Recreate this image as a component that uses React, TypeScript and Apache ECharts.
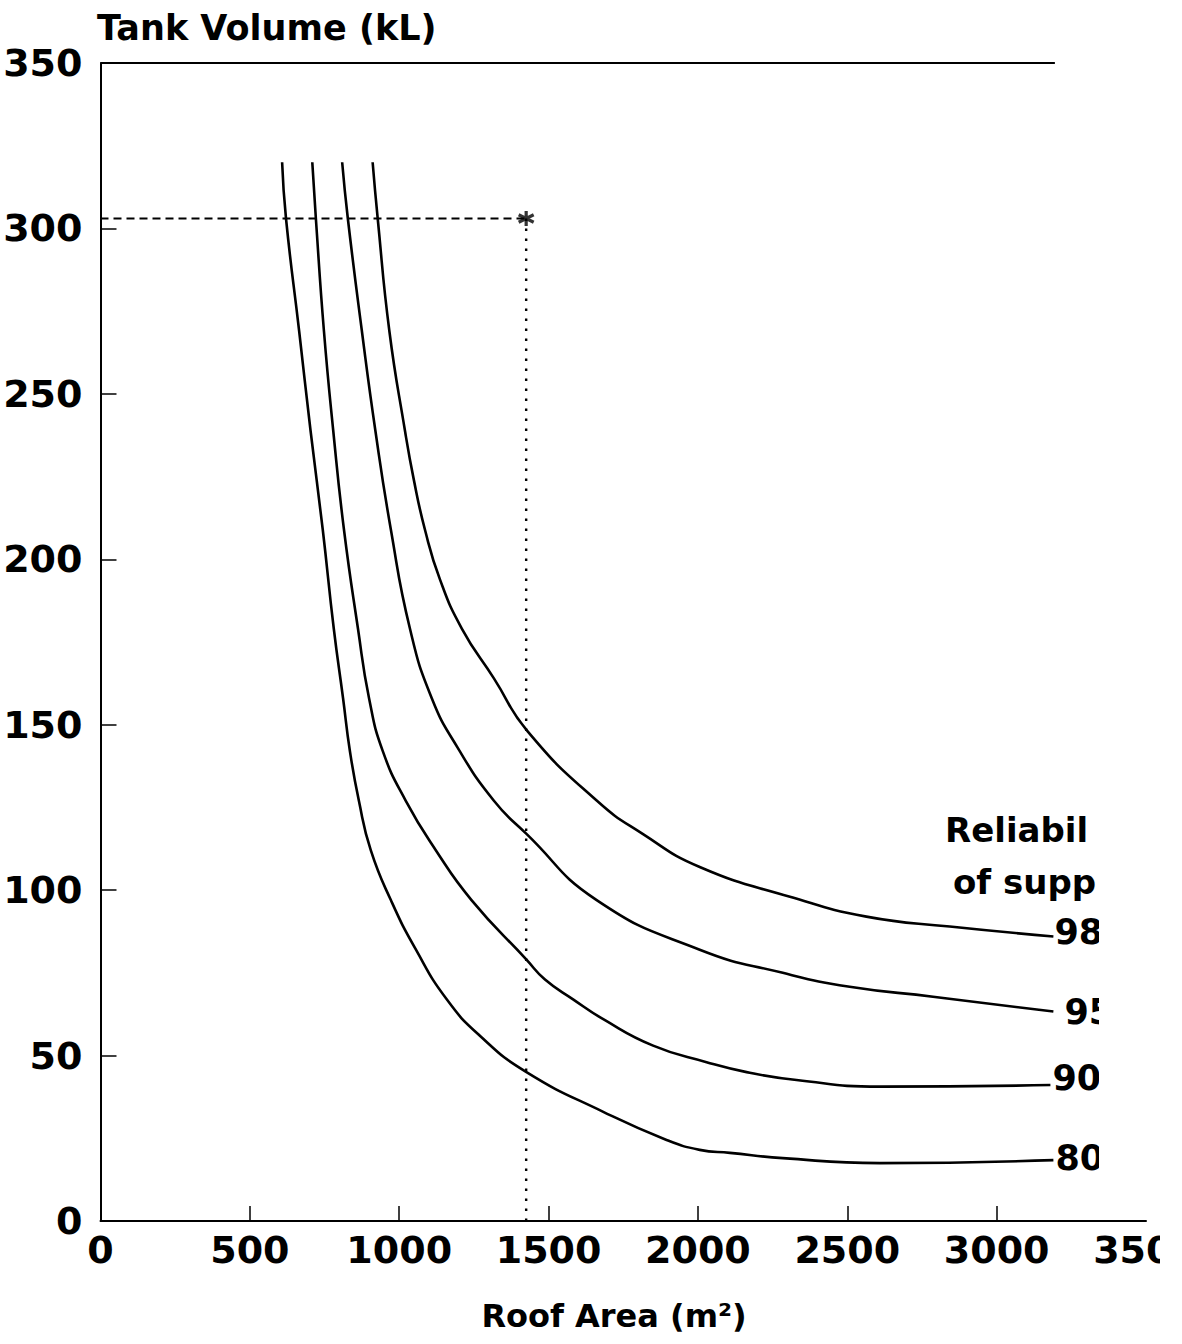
import React, { useEffect, useRef } from "react";
import * as echarts from "echarts";

// Axis ticks
const xTickValues = [500, 1000, 1500, 2000, 2500, 3000];
const yTickValues = [50, 100, 150, 200, 250, 300];

// Curves: [roof area m², tank volume kL]
const curve80: [number, number][] = [
  [608, 320], [621, 303], [665, 269], [703, 239], [744, 209], [781, 179], [812, 158],
  [835, 142], [865, 127], [905, 112], [972, 97], [1056, 82], [1159, 67], [1270, 56],
  [1426, 45], [1683, 33], [1895, 24.5], [2006, 21.5], [2107, 20.6], [2284, 19],
  [2609, 17.5], [3190, 18.4],
];
const curve90: [number, number][] = [
  [709, 320], [721, 303], [748, 269], [779, 239], [815, 209], [862, 179], [899, 158],
  [945, 142], [1022, 127], [1123, 112], [1242, 97], [1426, 79], [1488, 73], [1582, 67],
  [1683, 61], [1850, 53], [2029, 48], [2163, 45], [2330, 42.6], [2609, 40.6], [3180, 41.1],
];
const curve95: [number, number][] = [
  [809, 320], [828, 303], [875, 269], [920, 239], [972, 209], [1036, 179], [1109, 158],
  [1196, 143], [1317, 127], [1426, 117], [1661, 97], [2006, 82], [2284, 75], [2508, 70.8],
  [2787, 67.8], [3190, 63.3],
];
const curve98: [number, number][] = [
  [911, 320], [928, 303], [967, 269], [1019, 239], [1049, 224], [1086, 209], [1136, 194],
  [1210, 179], [1317, 164], [1430, 148], [1662, 127], [1815, 117], [2006, 107], [2308, 98],
  [2564, 92], [2843, 89], [3190, 86],
];
const curveNames = ["98%", "95%", "90%", "80%"];

// Reference design point and frame line
const refPoint: [number, number] = [1425, 303];
const topLine: [number, number][] = [[0, 350], [3195, 350]];

const FONT = "DejaVu Sans";

export default function App() {
  const ref = useRef<HTMLDivElement>(null);
  useEffect(() => {
    const chart = echarts.init(ref.current!, null, { renderer: "svg" });
    const curveSeries = (
      name: string,
      data: [number, number][],
      distance: number,
      offset: [number, number]
    ) => ({
      type: "line",
      name,
      data,
      showSymbol: false,
      symbol: "none",
      smooth: 0.5,
      clip: false,
      lineStyle: { color: "#000", width: 2.6 },
      endLabel: {
        show: true,
        formatter: name,
        color: "#000",
        fontSize: 35,
        fontWeight: "bold",
        fontFamily: FONT,
        distance,
        offset,
      },
      z: 3,
    });
    const txt = (text: string, x: number, y: number, size: number, align = "left") => ({
      type: "text",
      x,
      y,
      style: {
        text,
        fontSize: size,
        fontWeight: "bold",
        fontFamily: FONT,
        fill: "#000",
        align,
        verticalAlign: "middle",
      },
    });
    chart.setOption({
      animation: false,
      backgroundColor: "#fff",
      grid: { left: 100.5, right: 36, top: 63, bottom: 123, containLabel: false, outerBoundsMode: "none" },
      xAxis: {
        type: "value",
        min: 0,
        max: 3500,
        interval: 500,
        axisLine: { show: true, lineStyle: { color: "#000", width: 2 } },
        axisTick: {
          show: true,
          inside: true,
          length: 15,
          customValues: xTickValues,
          lineStyle: { color: "#000", width: 1.5 },
        },
        axisLabel: {
          fontSize: 38,
          fontWeight: "bold",
          color: "#000",
          fontFamily: FONT,
          margin: 10,
          formatter: (v: number) => String(v),
        },
        splitLine: { show: false },
      },
      yAxis: {
        type: "value",
        min: 0,
        max: 350,
        interval: 50,
        axisLine: { show: true, lineStyle: { color: "#000", width: 2 } },
        axisTick: {
          show: true,
          inside: true,
          length: 16,
          customValues: yTickValues,
          lineStyle: { color: "#000", width: 1.5 },
        },
        axisLabel: {
          fontSize: 38,
          fontWeight: "bold",
          color: "#000",
          fontFamily: FONT,
          margin: 18,
          formatter: (v: number) => String(v),
        },
        splitLine: { show: false },
      },
      series: [
        {
          type: "line",
          data: topLine,
          showSymbol: false,
          symbol: "none",
          clip: false,
          lineStyle: { color: "#000", width: 2 },
        },
        {
          type: "line",
          data: [[0, refPoint[1]], refPoint],
          showSymbol: false,
          symbol: "none",
          clip: false,
          lineStyle: { color: "#000", width: 2, type: [8, 5] },
        },
        {
          type: "line",
          data: [refPoint, [refPoint[0], 0]],
          showSymbol: false,
          symbol: "none",
          clip: false,
          lineStyle: { color: "#000", width: 2.4, type: [2.5, 7.5] },
        },
        {
          type: "scatter",
          data: [refPoint],
          symbol: "path://M6,0L6,12M0.8,3L11.2,9M0.8,9L11.2,3",
          symbolSize: 15,
          itemStyle: { color: "#000", borderColor: "#000", borderWidth: 3.2 },
          z: 4,
        },
        curveSeries(curveNames[0], curve98, 1, [0, -4]),
        curveSeries(curveNames[1], curve95, 11, [0, 0]),
        curveSeries(curveNames[2], curve90, 2, [0, -7]),
        curveSeries(curveNames[3], curve80, 2, [0, -2]),
      ],
      graphic: [
        txt("Tank Volume (kL)", 97, 28, 35),
        txt("Roof Area (m²)", 614, 1316, 32, "center"),
        txt("Reliability", 945, 830, 34),
        txt("of supply", 953, 882, 34),
        { type: "rect", z: 100, shape: { x: 1088, y: 800, width: 94, height: 52 }, style: { fill: "#fff" } },
        { type: "rect", z: 100, shape: { x: 1096, y: 852, width: 86, height: 52 }, style: { fill: "#fff" } },
        { type: "rect", z: 100, shape: { x: 1099, y: 904, width: 83, height: 283 }, style: { fill: "#fff" } },
        { type: "rect", z: 100, shape: { x: 1160, y: 1228, width: 22, height: 50 }, style: { fill: "#fff" } },
      ],
    });
    return () => chart.dispose();
  }, []);
  return (
    <div
      ref={ref}
      style={{ position: "absolute", left: 0, top: 0, width: 1182, height: 1344, background: "#fff" }}
    />
  );
}
